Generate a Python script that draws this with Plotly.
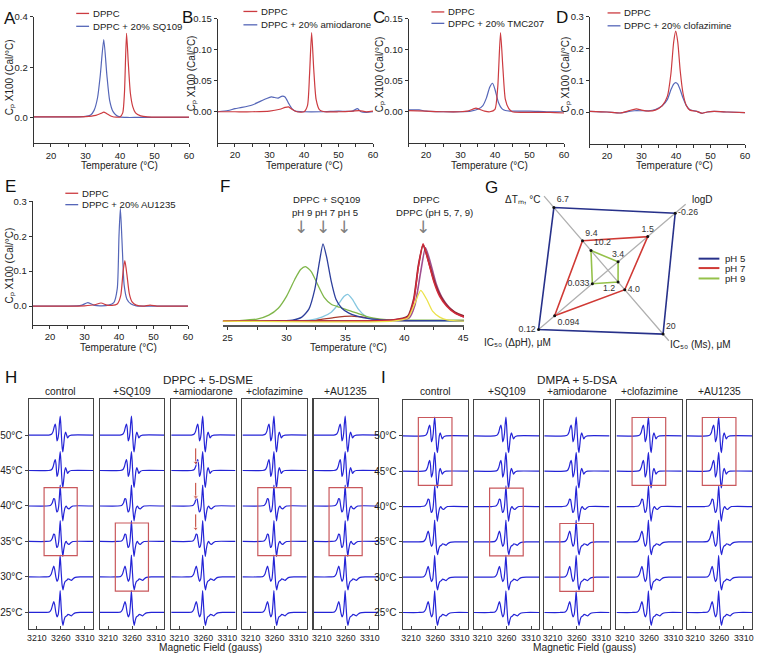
import plotly.graph_objects as go

W, H = 760, 654
FONT = "Liberation Sans, Arial, Helvetica, sans-serif"
AX = "#333333"
TXT = "#222222"
RED = "#cc3b40"
BLUE = "#5566b8"

# ---------------- DSC data (panels A-E) ----------------
A_dppc_T = [15, 20, 25, 30, 33, 34.5, 35.3, 36.2, 37.5, 39, 40, 40.8, 41.3, 41.9, 42.4, 43, 43.7, 44.5, 46, 48, 52, 60]
A_dppc_cp = [0.004, 0.004, 0.004, 0.005, 0.010, 0.018, 0.023, 0.017, 0.007, 0.003, 0.004, 0.02, 0.10, 0.335, 0.22, 0.10, 0.045, 0.02, 0.008, 0.004, 0.003, 0.003]
A_sq_T = [15, 20, 25, 30, 31.5, 32.5, 33.5, 34.3, 35.3, 36.2, 37, 38, 39, 40, 42, 45, 50, 60]
A_sq_cp = [0.004, 0.004, 0.004, 0.006, 0.012, 0.03, 0.08, 0.17, 0.31, 0.17, 0.07, 0.025, 0.01, 0.004, 0.002, 0.002, 0.002, 0.002]

B_dppc_T = [15, 20, 25, 30, 33, 34.5, 35.5, 36.5, 38, 40, 41, 41.6, 42.2, 42.8, 43.5, 44.5, 46, 50, 54, 56, 58, 60]
B_dppc_cp = [0.0, 0.0, 0.0, 0.001, 0.004, 0.007, 0.008, 0.004, 0.0, 0.0, 0.01, 0.06, 0.128, 0.07, 0.02, 0.003, 0.0, 0.0, 0.001, 0.002, 0.0, 0.001]
B_amio_T = [15, 18, 20, 22, 25, 27, 29, 30.5, 31.5, 32.5, 33.5, 34.5, 35.5, 36.5, 37.5, 40, 45, 50, 54, 55.5, 56.5, 58, 60]
B_amio_cp = [0.0, 0.002, 0.005, 0.007, 0.011, 0.016, 0.021, 0.024, 0.023, 0.022, 0.025, 0.024, 0.014, 0.005, 0.001, 0.0, 0.0, 0.001, 0.001, 0.005, 0.0, -0.001, 0.0]

C_dppc_T = [15, 20, 25, 30, 32, 33.5, 34.5, 35.5, 37, 38.5, 40, 40.8, 41.6, 42.3, 43, 44, 45, 48, 52, 56, 60]
C_dppc_cp = [0.002, 0.001, 0.0, 0.0, 0.001, 0.004, 0.006, 0.004, 0.001, 0.0, 0.004, 0.04, 0.128, 0.07, 0.02, 0.005, 0.0, -0.001, -0.001, -0.001, -0.002]
C_tmc_T = [15, 18, 20, 25, 30, 33, 35, 36.5, 37.5, 38.5, 39.3, 40, 41, 42, 43, 45, 50, 55, 60]
C_tmc_cp = [0.003, 0.003, 0.001, 0.0, 0.0, 0.001, 0.004, 0.01, 0.022, 0.040, 0.046, 0.036, 0.015, 0.005, 0.002, 0.001, 0.001, 0.0, 0.0]

D_dppc_T = [15, 20, 24, 26, 28.5, 30, 32, 34, 36, 37.5, 38.5, 39.3, 39.9, 40.5, 41.2, 42, 43, 44, 46, 47.5, 49, 51, 55, 60]
D_dppc_cp = [0.002, 0.0, -0.003, 0.003, 0.01, 0.006, 0.003, 0.006, 0.02, 0.05, 0.12, 0.22, 0.255, 0.22, 0.13, 0.06, 0.02, 0.006, 0.002, -0.004, 0.0, 0.002, 0.0, -0.002]
D_clof_T = [15, 20, 24, 26, 28, 30, 32, 34, 36, 37.5, 38.5, 39.3, 39.9, 40.5, 41.2, 42, 43, 44, 46, 47.5, 49, 51, 55, 60]
D_clof_cp = [0.002, 0.0, -0.003, 0.001, 0.004, 0.004, 0.004, 0.008, 0.02, 0.04, 0.07, 0.088, 0.093, 0.088, 0.07, 0.045, 0.02, 0.007, 0.002, -0.004, 0.0, 0.002, 0.0, -0.002]

E_dppc_T = [15, 20, 25, 30, 33, 34.8, 36.5, 38, 39.5, 40.5, 41.2, 41.7, 42.3, 43, 43.8, 45, 47, 49, 51, 55, 60]
E_dppc_cp = [0.0, 0.0, 0.0, 0.001, 0.004, 0.009, 0.003, 0.002, 0.006, 0.03, 0.10, 0.13, 0.09, 0.035, 0.012, 0.003, 0.0, 0.003, 0.0, 0.0, 0.0]
E_au_T = [15, 20, 25, 29, 31, 33, 35, 37, 38.5, 39.5, 40.0, 40.4, 40.9, 41.5, 42.3, 43.5, 45, 50, 55, 60]
E_au_cp = [0.0, 0.0, 0.0, 0.002, 0.01, 0.002, 0.001, 0.003, 0.01, 0.05, 0.20, 0.28, 0.18, 0.06, 0.02, 0.006, 0.001, 0.0, 0.0, 0.0]

A_yticks = [0.0, 0.2, 0.4]
B_yticks = [0.00, 0.05, 0.10, 0.15]
C_yticks = [0.00, 0.05, 0.10, 0.15]
D_yticks = [0.0, 0.1, 0.2, 0.3]
E_yticks = [0.0, 0.1, 0.2, 0.3]

# ---------------- Panel F (pH series) ----------------
F_sq9_T = [24.6, 26, 27.5, 28.5, 29.3, 30, 30.7, 31.2, 31.6, 32.1, 32.6, 33.2, 33.8, 34.5, 35.2, 36, 37, 38, 39, 40, 42, 45.08]
F_sq9_v = [0.0, 0.005, 0.02, 0.06, 0.13, 0.25, 0.42, 0.52, 0.55, 0.50, 0.38, 0.24, 0.17, 0.14, 0.11, 0.08, 0.04, 0.02, 0.01, 0.01, 0.01, 0.01]
F_sq7_T = [24.6, 29, 30.5, 31.3, 31.9, 32.4, 32.8, 33.1, 33.4, 33.8, 34.2, 34.7, 35.3, 36, 37, 38.5, 41, 45.08]
F_sq7_v = [0.0, 0.0, 0.01, 0.04, 0.12, 0.32, 0.6, 0.78, 0.65, 0.40, 0.22, 0.13, 0.08, 0.05, 0.025, 0.01, 0.005, 0.005]
F_sq5_T = [24.6, 30, 32, 33, 33.8, 34.4, 34.9, 35.2, 35.6, 36.1, 36.7, 37.5, 39, 45.08]
F_sq5_v = [0.0, 0.0, 0.01, 0.04, 0.09, 0.17, 0.25, 0.27, 0.22, 0.12, 0.05, 0.015, 0.005, 0.0]
F_br_T = [24.6, 30, 32.5, 34, 35.5, 36.8, 38, 39.5, 45.08]
F_br_v = [0.0, 0.0, 0.01, 0.035, 0.05, 0.035, 0.012, 0.002, 0.0]
F_d5_T = [24.6, 30, 35, 39, 40.3, 40.8, 41.2, 41.6, 42.0, 42.5, 43, 43.6, 44.3, 45.08]
F_d5_v = [0.0, 0.0, 0.0, 0.01, 0.04, 0.2, 0.55, 0.78, 0.62, 0.4, 0.25, 0.15, 0.08, 0.04]
F_d7_T = [24.6, 30, 35, 39, 40.4, 40.9, 41.4, 41.8, 42.2, 42.7, 43.2, 43.8, 44.5, 45.08]
F_d7_v = [0.0, 0.0, 0.0, 0.01, 0.03, 0.16, 0.50, 0.74, 0.60, 0.38, 0.24, 0.14, 0.07, 0.04]
F_d9_T = [24.6, 30, 35, 39, 40.3, 40.8, 41.2, 41.6, 42.0, 42.5, 43, 43.6, 44.3, 45.08]
F_d9_v = [0.0, 0.0, 0.0, 0.01, 0.05, 0.22, 0.56, 0.77, 0.63, 0.42, 0.27, 0.16, 0.09, 0.05]
F_y_T = [24.6, 39, 40.3, 40.9, 41.4, 41.9, 42.4, 43, 43.7, 45.08]
F_y_v = [0.0, 0.0, 0.03, 0.18, 0.31, 0.22, 0.10, 0.04, 0.01, 0.0]
F_arrow_T = [31.2, 33.1, 34.9, 41.6]
F_xticks = [25, 30, 35, 40, 45]

# ---------------- Panel G (radar) ----------------
G_axis_names = ["ΔTm", "logD", "IC50 (Ms)", "IC50 (ΔpH)"]
G_pH5 = [6.7, -0.26, 20, 0.12]
G_pH7 = [9.4, 1.5, 4.0, 0.094]
G_pH9 = [10.2, 3.4, 1.2, 0.033]
G_lab5 = ["6.7", "-0.26", "20", "0.12"]
G_lab7 = ["9.4", "1.5", "4.0", "0.094"]
G_lab9 = ["10.2", "3.4", "1.2", "0.033"]
# per-axis linear scale (radius = a + b * value) and axis directions
G_scale_a = [193.7, 83.7, 11.06, -6.27]
G_scale_b = [-16.4, -20.7, 3.70, 821.0]
G_theta = [130.8, 40.4, 310.8, 220.4]
G_axis_len = [99, 103, 94, 93]

# ---------------- Panels H / I (EPR) ----------------
EPR_temps = [50, 45, 40, 35, 30, 25]
EPR_cols = ["control", "+SQ109", "+amiodarone", "+clofazimine", "+AU1235"]
EPR_xticks = [3210, 3260, 3310]
fluid_B = [3193, 3235, 3241, 3244, 3246.5, 3248.4, 3250, 3251.8, 3253.5, 3255.5, 3257, 3258.6, 3260, 3261.5, 3263, 3264.2, 3266, 3268, 3270, 3272, 3274, 3277, 3282, 3327]
fluid_A = [0, 0, 1, 4, 9, 11, 6, -6, -4, 2, 12, 19, 10, -4, -14, -17, -9, 0, 3, 0, -3, -1, 0, 0]
inter_B = [3193, 3230, 3238, 3242, 3245, 3247, 3249, 3251.5, 3253.5, 3255.5, 3257, 3258.6, 3260.2, 3262, 3264, 3266, 3268.5, 3271, 3273.5, 3277, 3280, 3285, 3327]
inter_A = [0, 0, 0.5, 3, 7.5, 7, 1, -6, -5, 0, 10, 21, 8, -6, -15, -8, -2, 0, -2, -3, -1.5, 0, 0]
gel_B = [3193, 3225, 3236, 3240, 3243, 3245.1, 3247, 3249.5, 3252, 3254.5, 3256.5, 3258.5, 3260.5, 3262.5, 3264.5, 3266.5, 3269, 3272, 3275, 3278, 3282, 3285, 3290, 3300, 3327]
gel_A = [0, 0, 0.5, 3, 8, 11, 8, 0, -4.5, -2, 8, 22, 6, -8, -13, -8, -4.5, -3.5, -2, -2.5, -3.5, -2, -0.5, 0, 0]
H_shape_by_temp = ["fluid", "fluid", "inter", "inter", "gel", "gel"]
I_shape_by_temp = ["fluid", "fluid", "inter", "gel", "gel", "gel"]
H_rect_temps = [(40, 35), (35, 30), None, (40, 35), (40, 35)]
I_rect_temps = [(50, 45), (40, 35), (35, 30), (50, 45), (50, 45)]
rect_fields = [3225, 3294]
amio_arrow_T = [45, 40, 35]
amio_arrow_amp = [6, 7, 11]
amio_arrow_field = 3244
SPEC = 1 / 7.16  # spectrum amplitude -> axis units

shapes_lib = {"fluid": (fluid_B, fluid_A), "inter": (inter_B, inter_A), "gel": (gel_B, gel_A)}

# ============================================================
fig = go.Figure()
layout = {}
annotations = []
shapes = []


def xd(a, b):
    return [a / W, b / W]


def yd(top, bottom):
    return [1 - bottom / H, 1 - top / H]


def px(x):
    return x / W


def py(y):
    return 1 - y / H


def names(i):
    s = "" if i == 1 else str(i)
    return "xaxis" + s, "yaxis" + s, "x" + s, "y" + s


def ann(text, x, y, size=10, xanchor="center", yanchor="middle", angle=0, color=TXT):
    annotations.append(dict(text=text, x=px(x), y=py(y), xref="paper", yref="paper",
                            showarrow=False, xanchor=xanchor, yanchor=yanchor, textangle=angle,
                            font=dict(size=size, family=FONT, color=color)))


tickfont = dict(size=9.5, family=FONT, color=TXT)

# ---- DSC panels ----
dsc = [
    (1, (31, 188), (11, 138.5), [-0.1, 0.4], A_yticks, "{:.1f}",
     [(A_dppc_T, A_dppc_cp, RED), (A_sq_T, A_sq_cp, BLUE)]),
    (2, (217, 374), (13, 138), [-0.05, 0.15], B_yticks, "{:.2f}",
     [(B_dppc_T, B_dppc_cp, RED), (B_amio_T, B_amio_cp, BLUE)]),
    (3, (410, 567), (13, 138), [-0.05, 0.15], C_yticks, "{:.2f}",
     [(C_dppc_T, C_dppc_cp, RED), (C_tmc_T, C_tmc_cp, BLUE)]),
    (4, (593, 750), (11, 139), [-0.1, 0.3], D_yticks, "{:.1f}",
     [(D_dppc_T, D_dppc_cp, RED), (D_clof_T, D_clof_cp, BLUE)]),
    (5, (30, 187), (197, 322), [-0.054, 0.3], E_yticks, "{:.1f}",
     [(E_dppc_T, E_dppc_cp, RED), (E_au_T, E_au_cp, BLUE)]),
]
for idx, xdom, ydom, yr, ytv, fmt, series in dsc:
    xa, ya, xr_, yr_ = names(idx)
    layout[xa] = dict(domain=xd(*xdom), range=[15, 60], anchor=yr_, showline=True, linecolor=AX,
                      linewidth=1, ticks="outside", ticklen=3, tickcolor=AX, tick0=0, dtick=10,
                      minor=dict(dtick=5, tick0=0, ticks="outside", ticklen=3, tickcolor=AX),
                      showgrid=False, zeroline=False, tickfont=tickfont, fixedrange=True)
    layout[ya] = dict(domain=yd(*ydom), range=yr, anchor=xr_, showline=True, linecolor=AX,
                      linewidth=1, ticks="outside", ticklen=3, tickcolor=AX,
                      tickvals=ytv, ticktext=[fmt.format(v) for v in ytv],
                      showgrid=False, zeroline=False, tickfont=tickfont, fixedrange=True)
    for T, cp, col in series[::-1]:
        fig.add_trace(go.Scatter(x=T, y=cp, xaxis=xr_, yaxis=yr_, mode="lines",
                                 line=dict(color=col, width=1.2, shape="spline", smoothing=0.6),
                                 showlegend=False, hoverinfo="skip"))

# DSC legends (drawn keys)
legs = [
    (74, 87, 89, 7.5, 20.5, "DPPC + 20% SQ109"),
    (243, 257, 259, 5.5, 19, "DPPC + 20% amiodarone"),
    (433, 446, 448, 6, 17.5, "DPPC + 20% TMC207"),
    (611, 624, 626, 7, 20, "DPPC + 20% clofazimine"),
    (63, 76, 78, 189, 200.5, "DPPC + 20% AU1235"),
]
for x0, x1, tx, y1, y2, lab in legs:
    for yy, col, t in [(y1, RED, "DPPC"), (y2, BLUE, lab)]:
        shapes.append(dict(type="line", xref="paper", yref="paper", x0=px(x0), x1=px(x1),
                           y0=py(yy), y1=py(yy), line=dict(color=col, width=1.3)))
        ann(t, tx, yy, size=9.6, xanchor="left")

# DSC axis titles
ytitle = "Cₚ X100 (Cal/°C)"
for x, y in [(7, 72), (191, 68), (381, 69), (569, 69), (7, 262)]:
    ann(ytitle, x, y, size=10, angle=-90)
for x, y in [(118, 161), (305, 161), (492, 161), (679, 161), (117, 345)]:
    ann("Temperature (°C)", x, y, size=10)

# ---- Panel F ----
xa, ya, xr_, yr_ = names(6)
layout[xa] = dict(domain=xd(222, 466), range=[24.58, 45.08], anchor=yr_, showline=True, linecolor="#555555",
                  linewidth=1.5, ticks="outside", ticklen=3, tickcolor=AX, tickvals=F_xticks,
                  minor=dict(tickvals=[27.5, 32.5, 37.5, 42.5], ticks="outside", ticklen=3, tickcolor=AX),
                  showgrid=False, zeroline=False, tickfont=tickfont, fixedrange=True)
layout[ya] = dict(domain=yd(230, 322), range=[-0.04, 0.88], anchor=xr_, visible=False, fixedrange=True)
F_series = [
    (F_br_T, F_br_v, "#a83a2c", 1.3),
    (F_sq5_T, F_sq5_v, "#86c7e0", 1.3),
    (F_sq9_T, F_sq9_v, "#7fb64a", 1.3),
    (F_sq7_T, F_sq7_v, "#2d3f9c", 1.3),
    (F_d7_T, F_d7_v, "#a04e8f", 1.6),
    (F_d9_T, F_d9_v, "#8c2a35", 1.8),
    (F_d5_T, F_d5_v, "#d42a3a", 1.4),
    (F_y_T, F_y_v, "#ece24a", 1.3),
]
for T, v, col, w in F_series:
    fig.add_trace(go.Scatter(x=T, y=v, xaxis=xr_, yaxis=yr_, mode="lines",
                             line=dict(color=col, width=w, shape="spline", smoothing=0.6),
                             showlegend=False, hoverinfo="skip"))
for t in F_arrow_T:
    annotations.append(dict(x=t, y=py(223), xref=xr_, yref="paper", text="↓", showarrow=False,
                            xanchor="center", yanchor="middle",
                            font=dict(size=17, family="DejaVu Sans", color="#808080")))
ann("DPPC + SQ109", 327, 195, size=9.6)
ann("pH 9 pH 7 pH 5", 325, 208, size=9.6)
ann("DPPC", 428, 195, size=9.6)
ann("DPPC (pH 5, 7, 9)", 436, 208, size=9.6)
ann("Temperature (°C)", 349, 345, size=10)

# ---- Panel G (radar on polar axes) ----
cx, cy, R = 611.5, 266.8, 110
layout["polar"] = dict(domain=dict(x=[px(cx - R), px(cx + R)], y=[py(cy + R), py(cy - R)]),
                       bgcolor="rgba(0,0,0,0)",
                       radialaxis=dict(range=[0, R], visible=False),
                       angularaxis=dict(visible=False, rotation=0, direction="counterclockwise",
                                        thetaunit="degrees"))
for i in range(2):
    fig.add_trace(go.Scatterpolar(r=[G_axis_len[i], 0, G_axis_len[i + 2]],
                                  theta=[G_theta[i], 0, G_theta[i + 2]], mode="lines",
                                  line=dict(color="#b0b0b0", width=1.3), showlegend=False,
                                  hoverinfo="skip"))
G_sets = [
    (G_pH5, G_lab5, "#27318a", ["top right", "middle right", "top right", "middle left"]),
    (G_pH7, G_lab7, "#d03a35", ["top right", "top center", "middle right", "bottom right"]),
    (G_pH9, G_lab9, "#95c14a", ["top right", "top center", "bottom left", "middle left"]),
]
for vals, labs, col, pos in G_sets:
    r = [a + b * v for a, b, v in zip(G_scale_a, G_scale_b, vals)]
    fig.add_trace(go.Scatterpolar(r=r + [r[0]], theta=G_theta + [G_theta[0]], mode="lines",
                                  line=dict(color=col, width=1.6), showlegend=False, hoverinfo="skip"))
    fig.add_trace(go.Scatterpolar(r=r, theta=G_theta, mode="markers+text", text=labs,
                                  textposition=pos, marker=dict(color="#111111", size=3),
                                  textfont=dict(size=8.8, family=FONT, color="#333333"),
                                  showlegend=False, hoverinfo="skip"))
ann("ΔTₘ, °C", 526, 195, size=10)
ann("logD", 707, 195, size=10)
ann("IC₅₀ (ΔpH), μM", 520, 340, size=10)
ann("IC₅₀ (Ms), μM", 705, 342, size=10)
for yy, col, lab in [(255, "#27318a", "pH 5"), (264.5, "#d03a35", "pH 7"), (275, "#95c14a", "pH 9")]:
    shapes.append(dict(type="line", xref="paper", yref="paper", x0=px(703), x1=px(724),
                       y0=py(yy), y1=py(yy), line=dict(color=col, width=2)))
    ann(lab, 728, yy, size=9.6, xanchor="left")

# ---- Panels H / I (EPR) ----
epr_groups = [
    (7, [26, 98, 170, 242, 314], 65, 397, H_shape_by_temp, H_rect_temps),
    (12, [404, 476, 547, 620, 691], 66, 398, I_shape_by_temp, I_rect_temps),
]
for start, lefts, wid, top, shape_by_temp, rects in epr_groups:
    for k, left in enumerate(lefts):
        idx = start + k
        xa, ya, xr_, yr_ = names(idx)
        layout[xa] = dict(domain=xd(left, left + wid), range=[3193, 3327], anchor=yr_, showline=True,
                          linecolor="#444444", linewidth=1.2, mirror=True, ticks="inside", ticklen=3,
                          tickcolor="#444444", tickvals=EPR_xticks, showgrid=False, zeroline=False,
                          tickfont=dict(size=8.8, family=FONT, color=TXT), fixedrange=True)
        ylab = k == 0
        layout[ya] = dict(domain=yd(top, 629), range=[22.63, 55.03], anchor=xr_, showline=True,
                          linecolor="#444444", linewidth=1.2, mirror=True,
                          ticks="outside" if ylab else "", ticklen=3, tickcolor="#444444",
                          tickvals=EPR_temps, ticktext=[f"{t}°C" for t in EPR_temps],
                          showticklabels=ylab, showgrid=False, zeroline=False,
                          tickfont=dict(size=10, family=FONT, color=TXT), fixedrange=True)
        for t, shp in zip(EPR_temps, shape_by_temp):
            Bv, Av = shapes_lib[shp]
            fig.add_trace(go.Scatter(x=Bv, y=[t + a * SPEC for a in Av], xaxis=xr_, yaxis=yr_,
                                     mode="lines", line=dict(color="#2424d6", width=1.2,
                                                             shape="spline", smoothing=0.5),
                                     showlegend=False, hoverinfo="skip"))
        rt = rects[k]
        if rt is not None:
            shapes.append(dict(type="rect", xref=xr_, yref=yr_, x0=rect_fields[0], x1=rect_fields[1],
                               y0=rt[1] - 2.0, y1=rt[0] + 2.6, line=dict(color="#c9585c", width=1.2)))
        if start == 7 and k == 2:
            for t, a in zip(amio_arrow_T, amio_arrow_amp):
                tip = t + (a + 2) * SPEC
                fig.add_trace(go.Scatter(x=[amio_arrow_field, amio_arrow_field],
                                         y=[tip + 2.0, tip], xaxis=xr_, yaxis=yr_,
                                         mode="lines+markers",
                                         line=dict(color="#c0392b", width=1),
                                         marker=dict(symbol="triangle-down", size=[0, 5],
                                                     color="#c0392b"),
                                         showlegend=False, hoverinfo="skip"))
        cxp = left + wid / 2
        ann(EPR_cols[k], cxp, 389, size=10.2)

ann("DPPC + 5-DSME", 207, 377, size=11.7)
ann("DMPA + 5-DSA", 580, 377, size=11.7)
ann("Magnetic Field (gauss)", 210, 647, size=10.2)
ann("Magnetic Field (gauss)", 588, 647, size=10.2)

# panel letters
for lab, x, y in [("A", -1, 13), ("B", 179, 12), ("C", 372, 12), ("D", 557, 12), ("E", 0, 182),
                  ("F", 217, 182), ("G", 485, 183), ("H", 0, 375), ("I", 380, 375)]:
    ann(lab, x, y, size=17, xanchor="left", color="#111111")

fig.update_layout(**layout)
fig.update_layout(width=W, height=H, margin=dict(l=0, r=0, t=0, b=0), paper_bgcolor="white",
                  plot_bgcolor="rgba(0,0,0,0)", showlegend=False, annotations=annotations,
                  shapes=shapes, font=dict(family=FONT, color=TXT))
fig.write_html("out.html", config={"displayModeBar": False, "staticPlot": True},
               post_script="document.body.style.margin='0';document.body.style.overflow='hidden';")
